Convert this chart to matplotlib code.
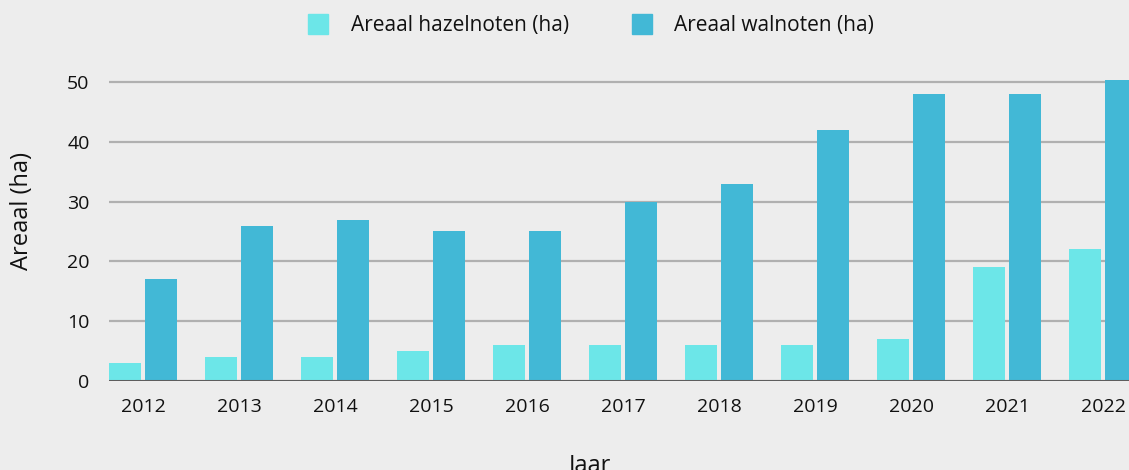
import numpy as np
import matplotlib.pyplot as plt
from matplotlib.lines import Line2D

years = ["2012", "2013", "2014", "2015", "2016", "2017", "2018", "2019", "2020", "2021", "2022"]
hazelnoten = [3, 4, 4, 5, 6, 6, 6, 6, 7, 19, 22]
walnoten = [17, 26, 27, 25, 25, 30, 33, 42, 48, 48, 50.3]

c_hazel = "#6ce6e8"
c_wal = "#42b8d6"
bg = "#ededed"

plt.rcParams["font.family"] = ["Open Sans", "DejaVu Sans"]

fig = plt.figure(figsize=(11.29, 4.70), dpi=100, facecolor=bg)
# axes: left 109px, right edge of figure, zero at y=381, 52 at y=70
ax = fig.add_axes([109 / 1129, 89 / 470, 1020 / 1129, 311 / 470])
ax.set_facecolor(bg)

x = np.arange(len(years))
w = 0.333
ax.bar(x - 0.1875, hazelnoten, width=w, color=c_hazel, zorder=3)
ax.bar(x + 0.1875, walnoten, width=w, color=c_wal, zorder=3)

ax.set_xlim(-0.354, 10.27)
ax.set_ylim(0, 52)
ax.set_yticks([0, 10, 20, 30, 40, 50])
ax.set_xticks(x)
ax.set_xticklabels(years)
ax.tick_params(axis="both", length=0, labelsize=14, colors="#111111")
ax.tick_params(axis="x", pad=12)
ax.tick_params(axis="y", pad=14)

ax.grid(axis="y", color="#b0b0b0", linewidth=1.6, zorder=1)
ax.set_axisbelow(True)
for s in ax.spines.values():
    s.set_visible(False)
ax.axhline(0, color="#5e5e5e", linewidth=2.2, zorder=4)

fig.text(22 / 1129, 1 - 211 / 470, "Areaal (ha)", rotation=90, ha="center", va="center",
         fontsize=17, color="#111111")
fig.text(590 / 1129, 1 - 465 / 470, "Jaar", ha="center", va="center",
         fontsize=17, color="#111111")

handles = [
    Line2D([], [], marker="s", linestyle="none", markersize=14.5, color=c_hazel),
    Line2D([], [], marker="s", linestyle="none", markersize=14.5, color=c_wal),
]
fig.legend(handles, ["Areaal hazelnoten (ha)", "Areaal walnoten (ha)"],
           loc="center", bbox_to_anchor=(591 / 1129, 1 - 26 / 470), ncol=2,
           frameon=False, fontsize=15, handlelength=1.0, handletextpad=1.05,
           columnspacing=3.0, labelcolor="#111111")

fig.savefig("out.png", dpi=100, facecolor=bg)
